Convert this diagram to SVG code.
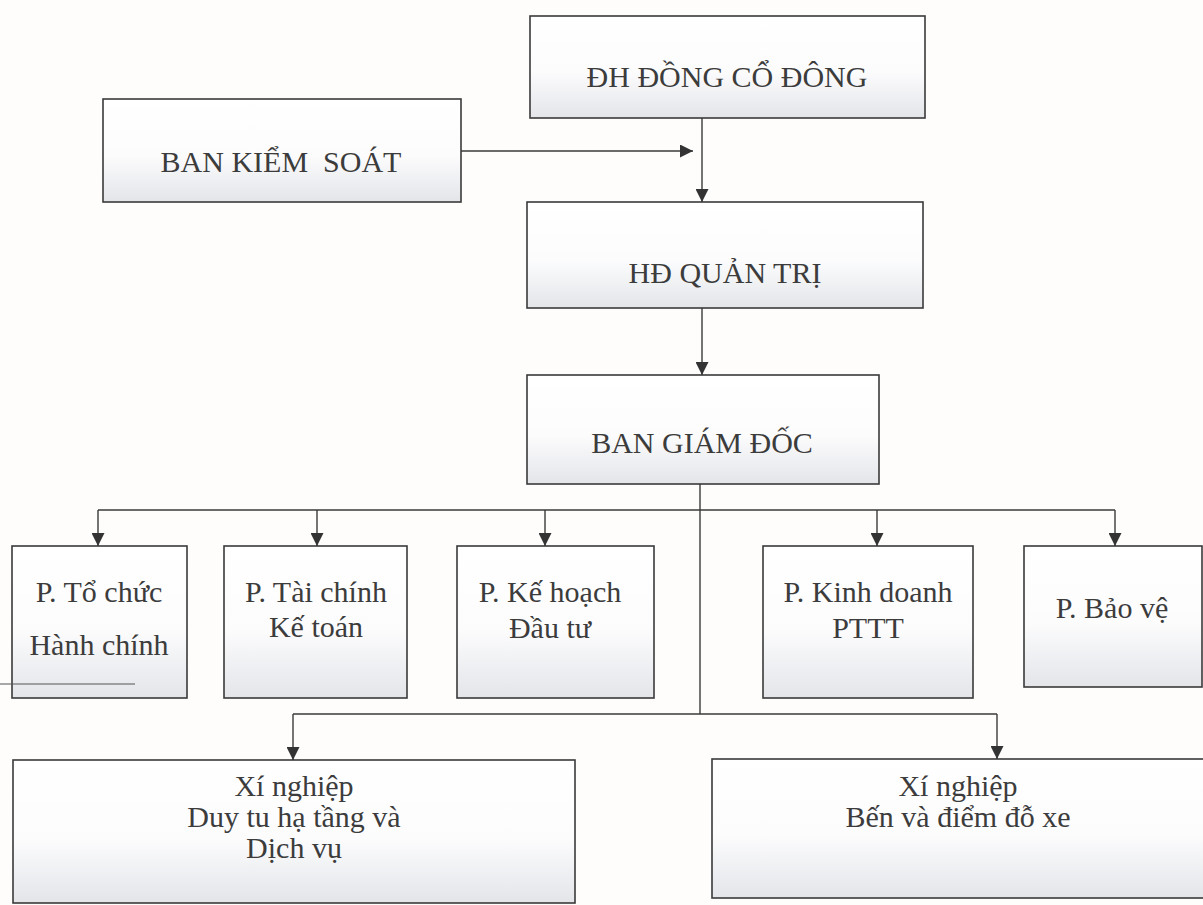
<svg xmlns="http://www.w3.org/2000/svg" width="1203" height="905" viewBox="0 0 1203 905">
<style>
.box{stroke:#3a3a3a;stroke-width:1.6;fill:url(#g)}
.t{font-family:"Liberation Serif","Times New Roman",serif;font-size:30px;fill:#3c3c3c;text-anchor:middle}
.c{stroke:#3a3a3a;stroke-width:1.4;fill:none}
.a{marker-end:url(#ah)}
</style>
<defs>
<linearGradient id="g" x1="0" y1="0" x2="0" y2="1">
<stop offset="0" stop-color="#ffffff"/>
<stop offset="0.55" stop-color="#fcfcfd"/>
<stop offset="1" stop-color="#e3e5e9"/>
</linearGradient>
<marker id="ah" viewBox="0 0 10 10" refX="10" refY="5" markerWidth="13" markerHeight="13" markerUnits="userSpaceOnUse" orient="auto">
<path d="M0,0 L10,5 L0,10 Z" fill="#333"/>
</marker>
</defs>
<rect width="1203" height="905" fill="#fefdfc"/>

<g id="n-dhcd"><rect class="box" x="530" y="16" width="395" height="102"/><text class="t" x="727" y="87">ĐH ĐỒNG CỔ ĐÔNG</text></g>
<g id="n-bks"><rect class="box" x="103" y="99" width="358" height="103"/><text class="t" x="281" y="172" xml:space="preserve">BAN KIỂM  SOÁT</text></g>
<g id="n-hdqt"><rect class="box" x="527" y="202" width="396" height="106"/><text class="t" x="725" y="283">HĐ QUẢN TRỊ</text></g>
<g id="n-bgd"><rect class="box" x="527" y="375" width="352" height="109"/><text class="t" x="702" y="453">BAN GIÁM ĐỐC</text></g>

<g id="n-tchc"><rect class="box" x="12" y="546" width="175" height="152"/><text class="t" x="99" y="602">P. Tổ chức</text><text class="t" x="99" y="655">Hành chính</text></g>
<g id="n-tckt"><rect class="box" x="224" y="546" width="183" height="152"/><text class="t" x="316" y="602">P. Tài chính</text><text class="t" x="316" y="637">Kế toán</text></g>
<g id="n-khdt"><rect class="box" x="457" y="546" width="197" height="152"/><text class="t" x="550" y="602">P. Kế hoạch</text><text class="t" x="550" y="638">Đầu tư</text></g>
<g id="n-kd"><rect class="box" x="763" y="546" width="210" height="152"/><text class="t" x="868" y="602">P. Kinh doanh</text><text class="t" x="868" y="638">PTTT</text></g>
<g id="n-bv"><rect class="box" x="1024" y="546" width="178" height="141"/><text class="t" x="1112" y="618">P. Bảo vệ</text></g>

<g id="n-xn1"><rect class="box" x="13" y="760" width="562" height="143"/><text class="t" x="294" y="796">Xí nghiệp</text><text class="t" x="294" y="827">Duy tu hạ tầng và</text><text class="t" x="294" y="858">Dịch vụ</text></g>
<g id="n-xn2"><rect class="box" x="712" y="759" width="492" height="139"/><text class="t" x="958" y="796">Xí nghiệp</text><text class="t" x="958" y="827">Bến và điểm đỗ xe</text></g>

<g id="connectors">
<path class="c a" d="M461,151 H693"/>
<path class="c a" d="M702,118 V202"/>
<path class="c a" d="M702,308 V375"/>
<path class="c" d="M700,484 V714"/>
<path class="c" d="M98,510 H1115"/>
<path class="c a" d="M98,510 V546"/>
<path class="c a" d="M317,510 V546"/>
<path class="c a" d="M545,510 V546"/>
<path class="c a" d="M877,510 V546"/>
<path class="c a" d="M1115,510 V546"/>
<path class="c" d="M293,714 H997"/>
<path class="c a" d="M293,714 V760"/>
<path class="c a" d="M997,714 V759"/>
</g>
<line x1="0" y1="684" x2="135" y2="684" stroke="#555" stroke-width="1.2"/>
</svg>
